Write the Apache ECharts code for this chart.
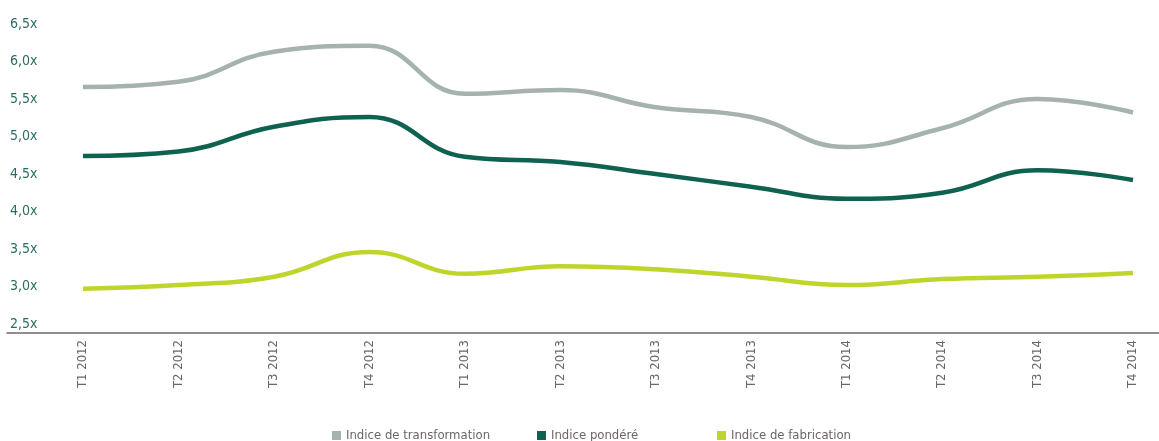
<!DOCTYPE html>
<html>
<head>
<meta charset="utf-8">
<script src="https://cdn.jsdelivr.net/npm/echarts@6/dist/echarts.min.js"></script>
<style>
  html, body { margin: 0; padding: 0; background: #fff; }
  #chart { width: 1159px; height: 441px; }
</style>
</head>
<body>
<div id="chart"></div>
<script>
var quarters = ['T1 2012', 'T2 2012', 'T3 2012', 'T4 2012', 'T1 2013', 'T2 2013',
                'T3 2013', 'T4 2013', 'T1 2014', 'T2 2014', 'T3 2014', 'T4 2014'];

// valeurs
var transformation = [5.66, 5.73, 6.13, 6.21, 5.57, 5.62, 5.39, 5.26, 4.86, 5.11, 5.50, 5.32];
var pondere        = [4.74, 4.80, 5.13, 5.26, 4.73, 4.66, 4.50, 4.33, 4.17, 4.25, 4.55, 4.42];
var fabrication    = [2.97, 3.02, 3.13, 3.46, 3.17, 3.27, 3.23, 3.13, 3.02, 3.10, 3.13, 3.18];

var seriesNames = ['Indice de transformation', 'Indice pondéré', 'Indice de fabrication'];

var font = "'DejaVu Sans Condensed', 'Liberation Sans Narrow', sans-serif";

var myChart = echarts.init(document.getElementById('chart'));

function lineSerie(name, data, color) {
    return {
        name: name,
        type: 'line',
        data: data,
        smooth: 0.45,
        symbol: 'none',
        lineStyle: { width: 4.5, color: color },
        itemStyle: { color: color }
    };
}

// one legend per entry, spaced like the original
function legendAt(name, left) {
    return {
        top: 424,
        left: left,
        itemWidth: 9,
        itemHeight: 9,
        icon: 'rect',
        textStyle: { color: '#6e6466', fontSize: 13, fontFamily: font },
        data: [name]
    };
}

var option = {
    backgroundColor: '#fff',
    animation: false,
    textStyle: { fontFamily: font },
    legend: [
        legendAt(seriesNames[0], 327),
        legendAt(seriesNames[1], 532),
        legendAt(seriesNames[2], 712)
    ],
    grid: [
        { left: 83, right: 26, top: 24, bottom: 117 },
        // only used for the long base line
        { left: 7, right: 0, top: 24, bottom: 108 }
    ],
    xAxis: [
        {
            type: 'category',
            gridIndex: 0,
            data: quarters,
            boundaryGap: false,
            offset: 9,
            axisLine: { show: false },
            axisTick: { show: false },
            axisLabel: {
                rotate: 90,
                margin: 7,
                color: '#6f6567',
                fontSize: 13,
                fontFamily: font
            }
        },
        {
            type: 'value',
            gridIndex: 1,
            axisLine: { show: true, lineStyle: { color: '#6b6b6b', width: 1.5 } },
            axisTick: { show: false },
            axisLabel: { show: false },
            splitLine: { show: false }
        }
    ],
    yAxis: [
        {
            type: 'value',
            gridIndex: 0,
            min: 2.5,
            max: 6.5,
            interval: 0.5,
            axisLine: { show: false },
            axisTick: { show: false },
            splitLine: { show: false },
            axisLabel: {
                align: 'left',
                margin: 73,
                color: '#2b6d62',
                fontSize: 14,
                fontFamily: font,
                formatter: function (v) { return v.toFixed(1).replace('.', ',') + 'x'; }
            }
        },
        {
            type: 'value',
            gridIndex: 1,
            show: false
        }
    ],
    series: [
        lineSerie(seriesNames[0], transformation, '#a5b2ae'),
        lineSerie(seriesNames[1], pondere, '#0f6150'),
        lineSerie(seriesNames[2], fabrication, '#bfd52b')
    ]
};

myChart.setOption(option);
</script>
</body>
</html>
